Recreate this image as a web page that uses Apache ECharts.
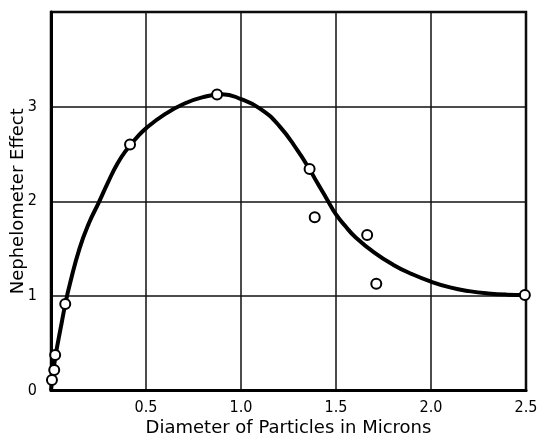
<!DOCTYPE html>
<html>
<head>
<meta charset="utf-8">
<script src="https://cdn.jsdelivr.net/npm/echarts@6/dist/echarts.min.js"></script>
<style>html,body{margin:0;padding:0;background:#fff;}#c{width:538px;height:435px;}</style>
</head>
<body>
<div id="c"></div>
<script>
// Observed data points (open circles)
const pointX = [0.005, 0.017, 0.022, 0.075, 0.416, 0.874, 1.361, 1.388, 1.664, 1.712, 2.494];
const pointY = [0.11, 0.217, 0.375, 0.914, 2.60, 3.127, 2.34, 1.83, 1.644, 1.129, 1.01];
// Drawn smooth curve
const curveX = [0, 0.012, 0.025, 0.05, 0.075, 0.1, 0.15, 0.2, 0.25, 0.3, 0.35, 0.4, 0.45, 0.5, 0.6, 0.7, 0.8, 0.9, 1.0, 1.1, 1.2, 1.3, 1.36, 1.4, 1.45, 1.5, 1.55, 1.6, 1.7, 1.8, 1.9, 2.0, 2.1, 2.2, 2.3, 2.4, 2.5];
const curveY = [0, 0.2, 0.38, 0.65, 0.91, 1.13, 1.5, 1.77, 1.98, 2.2, 2.4, 2.55, 2.67, 2.77, 2.92, 3.03, 3.1, 3.13, 3.08, 2.98, 2.8, 2.53, 2.34, 2.2, 2.03, 1.86, 1.735, 1.625, 1.46, 1.33, 1.23, 1.15, 1.09, 1.05, 1.025, 1.013, 1.01];
const xTicks = [0.5, 1.0, 1.5, 2.0, 2.5];
const yTicks = [0, 1, 2, 3];
const xTitle = 'Diameter of Particles in Microns';
const yTitle = 'Nephelometer Effect';

const chart = echarts.init(document.getElementById('c'), null, {renderer: 'canvas'});
const fontFam = '"DejaVu Sans", sans-serif';
chart.setOption({
  backgroundColor: '#fff',
  animation: false,
  grid: {left: 51, right: 12, top: 12, bottom: 44.5, containLabel: false, outerBoundsMode: 'none',
         show: true, borderColor: '#000', borderWidth: 2.5},
  xAxis: {
    type: 'value', min: 0, max: 2.5, interval: 0.5,
    name: xTitle, nameLocation: 'middle', nameGap: 29, nameMoveOverlap: false,
    nameTextStyle: {fontFamily: fontFam, fontSize: 18, color: '#000'},
    axisLine: {show: true, lineStyle: {color: '#000', width: 3}},
    axisTick: {show: false},
    splitLine: {show: true, lineStyle: {color: '#111', width: 1.5}},
    axisLabel: {
      color: '#000', fontFamily: '"DejaVu Sans Condensed", "DejaVu Sans", sans-serif', fontSize: 16, margin: 9,
      formatter: v => xTicks.some(t => Math.abs(t - v) < 1e-9) ? v.toFixed(1) : ''
    }
  },
  yAxis: {
    type: 'value', min: 0, max: 4, interval: 1,
    name: yTitle, nameLocation: 'middle', nameGap: 24, nameMoveOverlap: false,
    nameTextStyle: {fontFamily: fontFam, fontSize: 18, color: '#000'},
    axisLine: {show: true, lineStyle: {color: '#000', width: 3}},
    axisTick: {show: false},
    splitLine: {show: true, lineStyle: {color: '#111', width: 1.5}},
    axisLabel: {
      color: '#000', fontFamily: '"DejaVu Sans Condensed", "DejaVu Sans", sans-serif', fontSize: 16, margin: 14,
      formatter: v => yTicks.indexOf(v) >= 0 ? String(v) : ''
    }
  },
  series: [
    {
      type: 'line', data: curveX.map((x, i) => [x, curveY[i]]),
      smooth: 0.5, showSymbol: false, symbol: 'none',
      lineStyle: {color: '#000', width: 4}, z: 2, clip: false
    },
    {
      type: 'scatter', data: pointX.map((x, i) => [x, pointY[i]]),
      symbol: 'circle', symbolSize: 10,
      itemStyle: {color: '#fff', borderColor: '#000', borderWidth: 2, opacity: 1},
      z: 3, clip: false
    }
  ]
});
</script>
</body>
</html>
